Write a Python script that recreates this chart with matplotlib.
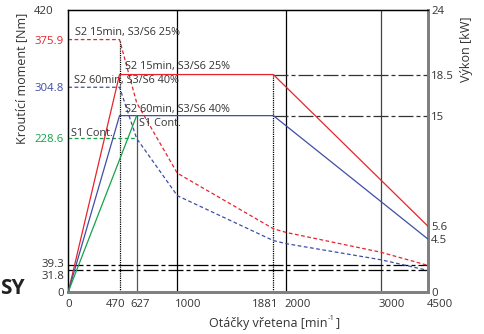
import numpy as np
import matplotlib
matplotlib.use("Agg")
import matplotlib.pyplot as plt
import matplotlib.transforms as mtransforms

plt.rcParams['font.family'] = ['Open Sans', 'DejaVu Sans']

# ---------------- data ----------------
speed_knots = [0, 470, 627, 1000, 1881, 2000, 3000, 4500]
torque_s2_15 = [375.9, 375.9, 281.8, 176.7, 93.9, 88.3, 58.9, 39.3]
torque_s2_60 = [304.8, 304.8, 228.5, 143.2, 76.2, 71.6, 47.7, 31.8]
s1_speed = [0, 627]
s1_torque = [228.6, 228.6]
s1_power = [0, 15]

power_speed = [0, 470, 1881, 4500]
power_s2_15 = [0, 18.5, 18.5, 5.6]
power_s2_60 = [0, 15, 15, 4.5]

x_ticks = [0, 470, 627, 1000, 1881, 2000, 3000, 4500]
x_tick_labels = ["0", "470", "627", "1000", "1881", "2000", "3000", "4500"]
torque_ticks = [0, 31.8, 39.3, 228.6, 304.8, 375.9, 420]
torque_tick_labels = ["0", "31.8", "39.3", "228.6", "304.8", "375.9", "420"]
power_ticks = [0, 4.5, 5.6, 15, 18.5, 24]
power_tick_labels = ["0", "4.5", "5.6", "15", "18.5", "24"]

label_15 = "S2 15min, S3/S6 25%"
label_60 = "S2 60min, S3/S6 40%"
label_s1 = "S1 Cont."

RED = '#e8232b'
BLUE = '#3f4ea6'
GREEN = '#14a24b'
TXT = '#333333'

# ---------------- figure ----------------
W, H = 485, 334
fig = plt.figure(figsize=(W / 100, H / 100), dpi=100)
L, R, T, B = 68.3, 427.7, 10, 291.7
ax = fig.add_axes([L / W, 1 - B / H, (R - L) / W, (B - T) / H])

# piecewise speed axis (linear to 2000, compressed above)
k_in = [0, 2000, 3000, 4500]
k_out = [0, 2000, 2866, 3297]
fwd = lambda x: np.interp(x, k_in, k_out)
inv = lambda y: np.interp(y, k_out, k_in)
ax.set_xscale('function', functions=(fwd, inv))
ax.set_xlim(0, 4500)
ax.set_ylim(0, 420)

ax2 = ax.twinx()
ax2.set_ylim(0, 24)

tmax, pmax = 420.0, 24.0

# vertical reference lines
ax.axvline(1000, color='black', lw=0.9, zorder=1)
ax.axvline(2000, color='black', lw=0.9, zorder=1)
ax.axvline(3000, color='#444444', lw=0.9, zorder=1)
ax.axvline(627, ymax=s1_power[1] / pmax, color='#555555', lw=0.9, zorder=1)
ax.axvline(470, ymax=torque_s2_15[0] / tmax, color='black', lw=0.9,
           dashes=(1, 0.8), zorder=1)
ax.axvline(1881, ymax=power_s2_15[1] / pmax, color='black', lw=0.9,
           dashes=(1, 0.8), zorder=1)

dd = (12, 2.4, 3.2, 2.4)
ax.axhline(torque_s2_15[-1], color='black', lw=0.9, dashes=dd, zorder=1)
ax.axhline(torque_s2_60[-1], color='black', lw=0.9, dashes=dd, zorder=1)
ax2.plot([power_speed[2], power_speed[3]], [power_s2_15[2], power_s2_15[2]],
         color='#333333', lw=0.9, dashes=dd, zorder=1)
ax2.plot([power_speed[2], power_speed[3]], [power_s2_60[2], power_s2_60[2]],
         color='#333333', lw=0.9, dashes=dd, zorder=1)

# torque curves (dashed)
ax.plot(speed_knots, torque_s2_15, color=RED, lw=0.9, dashes=(3, 2), zorder=3)
ax.plot(speed_knots, torque_s2_60, color=BLUE, lw=0.9, dashes=(3, 2), zorder=3)
ax.plot(s1_speed, s1_torque, color=GREEN, lw=0.9, dashes=(3, 2), zorder=3)

# power curves (solid)
ax2.plot(power_speed, power_s2_15, color=RED, lw=0.9, zorder=3)
ax2.plot(power_speed, power_s2_60, color=BLUE, lw=0.9, zorder=3)
ax2.plot(s1_speed, s1_power, color=GREEN, lw=0.9, zorder=3)

# spines
for a in (ax, ax2):
    a.spines['left'].set_color('black')
    a.spines['left'].set_linewidth(0.9)
    a.spines['top'].set_color('black')
    a.spines['top'].set_linewidth(0.9)
    a.spines['right'].set_color('#808080')
    a.spines['right'].set_linewidth(2)
    a.spines['bottom'].set_color('#808080')
    a.spines['bottom'].set_linewidth(2)

# ticks
ax.set_xticks(x_ticks)
ax.set_xticklabels(x_tick_labels)
ax.set_yticks(torque_ticks)
ax.set_yticklabels(torque_tick_labels)
ax2.set_yticks(power_ticks)
ax2.set_yticklabels(power_tick_labels)
ax.xaxis.set_minor_locator(matplotlib.ticker.NullLocator())
ax.tick_params(axis='both', length=0, labelsize=8.2, labelcolor=TXT)
ax.tick_params(axis='x', pad=5)
ax.tick_params(axis='y', pad=3)
ax2.tick_params(axis='y', length=0, labelsize=8.2, labelcolor=TXT, pad=2.5)

def shift(lbl, dx, dy):
    lbl.set_transform(lbl.get_transform() +
                      mtransforms.ScaledTranslation(dx / 100, -dy / 100, fig.dpi_scale_trans))

x_offsets = [0, -4, 3, 11, -8, 11.5, 11, 12.3]
for lbl, dx in zip(ax.get_xticklabels(), x_offsets):
    shift(lbl, dx, 0)

ycol = {"375.9": RED, "304.8": BLUE, "228.6": GREEN}
yoff = {"420": (-11, 0), "39.3": (0, -2), "31.8": (0, 5)}
for lbl in ax.get_yticklabels():
    t = lbl.get_text()
    if t in ycol:
        lbl.set_color(ycol[t])
    if t in yoff:
        shift(lbl, *yoff[t])

# axis labels
fig.text(21.5 / W, 1 - 78 / H, "Kroutící moment [Nm]", rotation=90,
         ha='center', va='center', fontsize=9, color=TXT)
fig.text(466.5 / W, 1 - 49 / H, "Výkon [kW]", rotation=90,
         ha='center', va='center', fontsize=9, color=TXT)
xl = fig.text(209 / W, 1 - 323 / H, "Otáčky vřetena [min", ha='left',
              va='center', fontsize=9, color=TXT)
fig.canvas.draw()
bb = xl.get_window_extent()
sup = fig.text(bb.x1 / W + 0.5 / W, 1 - 319 / H, "-1", ha='left', va='center',
               fontsize=5.5, color=TXT)
fig.canvas.draw()
bb2 = sup.get_window_extent()
fig.text(bb2.x1 / W + 0.5 / W, 1 - 323 / H, "]", ha='left', va='center',
         fontsize=9, color=TXT)

# annotations
def ptext(x, y, s, **kw):
    fig.text(x / W, 1 - y / H, s, ha='left', va='center', fontsize=7.8,
             color=TXT, **kw)

ptext(75, 33, label_15)
ptext(125, 67, label_15)
ptext(74, 80, label_60)
ptext(125, 109, label_60)
ptext(71, 133, label_s1)
ptext(139, 124, label_s1)

fig.text(25 / W, 1 - 289 / H, "SY", ha='right', va='center', fontsize=15,
         fontweight='bold', color='#222222')

fig.savefig("out.png", dpi=100)
